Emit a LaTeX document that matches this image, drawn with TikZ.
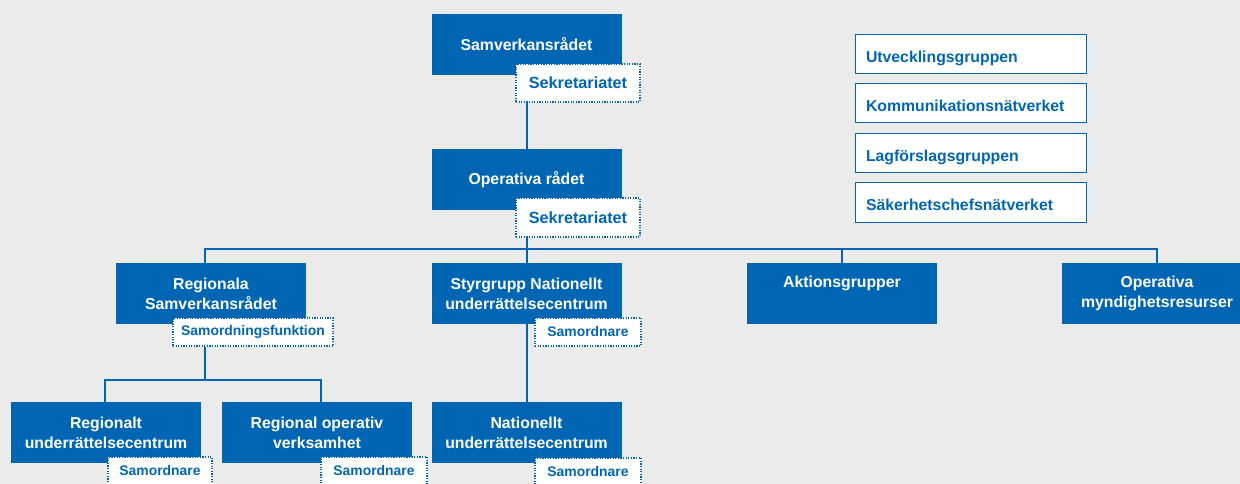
\documentclass[tikz,border=0pt]{standalone}
\usepackage{fontspec}
\setmainfont{Liberation Sans}
\definecolor{orgblue}{RGB}{0,102,179}
\definecolor{paper}{RGB}{235,235,235}
\begin{document}
\begin{tikzpicture}
  [x=1pt, y=-1pt,
    line/.style={%
      draw=orgblue, line width=2pt
    },
    unit/.style={%
      rectangle, fill=orgblue, text=white, align=center,
      minimum width=190pt, minimum height=61pt, inner sep=0pt,
      font=\bfseries\fontsize{15.8}{20}\selectfont
    },
    tag/.style={%
      rectangle, draw=orgblue, fill=white, text=orgblue,
      line width=1.2pt, dash pattern=on 1.2pt off 1.4pt,
      minimum height=28pt, inner sep=0pt,
      font=\bfseries\fontsize{13.9}{16}\selectfont
    },
    group/.style={%
      rectangle, draw=orgblue, fill=white, text=orgblue,
      line width=1pt, minimum height=39pt, text width=209pt,
      text height=16pt, text depth=0pt,
      inner xsep=11pt, inner ysep=0pt, align=left,
      font=\bfseries\fontsize{15.8}{18}\selectfont
    },
  ]

  \path[use as bounding box, fill=paper] (0,0) rectangle (1240,484);
  \clip (0,0) rectangle (1240,484);

  % top of the chain
  \node[unit] (sam) at (526.5,44.5) {Samverkansrådet};
  \node[tag, minimum width=124pt, minimum height=38pt,
        font=\bfseries\fontsize{16.2}{18}\selectfont] (sek1) at (578,83) {Sekretariatet};
  \node[unit] (opr) at (526.5,179.5) {Operativa rådet};
  \node[tag, minimum width=124pt, minimum height=39pt,
        font=\bfseries\fontsize{16.2}{18}\selectfont] (sek2) at (578,217.5) {Sekretariatet};

  % second row
  \node[unit] (reg) at (211,293.5) {Regionala\\Samverkansrådet};
  \node[tag, minimum width=160pt] (sfk) at (253,332) {Samordningsfunktion};
  \node[unit] (styr) at (526.5,293.5) {Styrgrupp Nationellt\\underrättelsecentrum};
  \node[tag, minimum width=106pt] (sn1) at (588,332) {Samordnare};
  \node[unit] (akt) at (842,293.5) {Aktionsgrupper\\\phantom{g}};
  \node[unit] (omr) at (1157,293.5) {Operativa\\myndighetsresurser};

  % third row
  \node[unit] (ruc) at (106,432.5) {Regionalt\\underrättelsecentrum};
  \node[tag, minimum width=104pt] (sn2) at (160,471) {Samordnare};
  \node[unit] (rov) at (317,432.5) {Regional operativ\\verksamhet};
  \node[tag, minimum width=106pt] (sn3) at (374,471) {Samordnare};
  \node[unit] (nuc) at (526.5,432.5) {Nationellt\\underrättelsecentrum};
  \node[tag, minimum width=106pt] (sn4) at (588,472) {Samordnare};

  % groups on the right
  \node[group] (utv) at (970.5,54.5) {Utvecklingsgruppen};
  \node[group] (kom) at (970.5,103.5) {Kommunikationsnätverket};
  \node[group] (lag) at (970.5,153) {Lagförslagsgruppen};
  \node[group] (sak) at (970.5,202.5) {Säkerhetschefsnätverket};

  % connectors
  \coordinate (busL) at (205,249);
  \coordinate (busR) at (1157,249);
  \coordinate (regM) at (205,380);
  \coordinate (regL) at (105,380);
  \coordinate (regR) at (321,380);

  \draw[line] (sek1.south -| sam) -- (opr.north);
  \draw[line] (sek2.south -| opr) -- (styr.north);
  \draw[line] (busL |- reg.north) -- (busL) -- (busR) -- (omr.north);
  \draw[line] (akt.north) -- (akt.north |- busL);
  \draw[line] (sfk.south -| regM) -- (regM);
  \draw[line] (ruc.north -| regL) -- (regL) -- (regR) -- (rov.north -| regR);
  \draw[line] (styr.south) -- (nuc.north);

\end{tikzpicture}
\end{document}
